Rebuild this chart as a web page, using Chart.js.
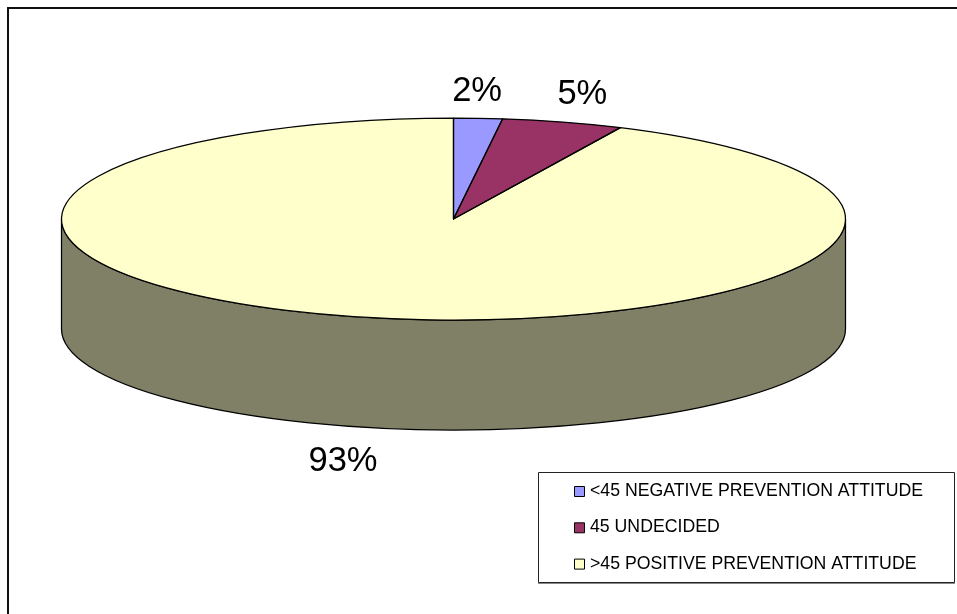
<!DOCTYPE html>
<html>
<head>
<meta charset="utf-8">
<title>Prevention attitude</title>
<script src="https://cdn.jsdelivr.net/npm/chart.js@4/dist/chart.umd.min.js"></script>
<style>
    html, body { margin: 0; padding: 0; background: #fff; }
    canvas { display: block; }
</style>
</head>
<body>
<canvas id="pieChart" width="957" height="614"></canvas>
<script>
// Datos del gráfico
const categories = ['<45 NEGATIVE PREVENTION ATTITUDE', '45 UNDECIDED', '>45 POSITIVE PREVENTION ATTITUDE'];
const values = [2, 5, 93];

// Colores de cara superior y pared lateral
const topColors = ['#9999ff', '#993366', '#ffffcc'];
const wallColors = ['#4d4d80', '#4d1933', '#808066'];

// Geometría de la elipse
const pie = { cx: 453.5, cy: 219, rx: 392, ry: 101, depth: 110 };

// Desplazamiento de cada etiqueta respecto al borde de su porción
const labelOffsets = [[-1, -27], [19.5, -28], [-25, 144]];

const fontName = '"Liberation Sans", Arial, sans-serif';

function drawFrame(ctx) {
    ctx.fillStyle = '#111';
    ctx.fillRect(7, 7, 950, 2);
    ctx.fillRect(7, 7, 2, 607);
}

// Pared lateral: solo la mitad frontal de cada porción es visible
function drawWall(ctx, arcs) {
    arcs.forEach((arc, i) => {
        const a0 = Math.max(arc.startAngle, 0);
        const a1 = Math.min(arc.endAngle, Math.PI);
        if (a1 <= a0) return;
        ctx.beginPath();
        ctx.ellipse(pie.cx, pie.cy, pie.rx, pie.ry, 0, a0, a1);
        ctx.ellipse(pie.cx, pie.cy + pie.depth, pie.rx, pie.ry, 0, a1, a0, true);
        ctx.closePath();
        ctx.fillStyle = wallColors[i];
        ctx.fill();
        ctx.strokeStyle = '#000';
        ctx.lineWidth = 1.25;
        ctx.stroke();
    });
}

function drawOutlines(ctx, arcs) {
    ctx.strokeStyle = '#000';
    ctx.lineWidth = 1.25;
    ctx.lineJoin = 'round';
    arcs.forEach(arc => {
        ctx.beginPath();
        ctx.moveTo(pie.cx, pie.cy);
        ctx.ellipse(pie.cx, pie.cy, pie.rx, pie.ry, 0, arc.startAngle, arc.endAngle);
        ctx.closePath();
        ctx.stroke();
    });
}

function drawLabels(ctx, arcs) {
    ctx.fillStyle = '#000';
    ctx.font = '34.5px ' + fontName;
    ctx.textAlign = 'center';
    ctx.textBaseline = 'middle';
    arcs.forEach((arc, i) => {
        const mid = (arc.startAngle + arc.endAngle) / 2;
        const x = pie.cx + pie.rx * Math.cos(mid) + labelOffsets[i][0];
        const y = pie.cy + pie.ry * Math.sin(mid) + labelOffsets[i][1];
        ctx.fillText(values[i] + '%', x, y);
    });
}

function drawLegend(ctx) {
    ctx.fillStyle = '#fff';
    ctx.fillRect(538, 472, 416, 110);
    ctx.strokeStyle = '#222';
    ctx.lineWidth = 1;
    ctx.strokeRect(538.5, 472.5, 416, 110);
    ctx.fillStyle = '#888';
    ctx.fillRect(538, 583, 417, 1);

    ctx.font = '17.7px ' + fontName;
    ctx.textAlign = 'left';
    ctx.textBaseline = 'alphabetic';
    categories.forEach((name, i) => {
        const y = 486 + i * 36.3;
        ctx.fillStyle = topColors[i];
        ctx.fillRect(574.5, y + 0.5, 10, 10);
        ctx.strokeStyle = '#000';
        ctx.strokeRect(574.5, y + 0.5, 10, 10);
        ctx.fillStyle = '#000';
        ctx.fillText(name, 590, y + 10);
    });
}

// Aplana las porciones circulares de Chart.js para que formen la elipse superior
const pie3d = {
    id: 'pie3d',
    beforeDraw(chart) {
        drawFrame(chart.ctx);
    },
    beforeDatasetsDraw(chart) {
        const ctx = chart.ctx;
        const arcs = chart.getDatasetMeta(0).data;
        drawWall(ctx, arcs);
        const r = arcs[0].outerRadius;
        ctx.save();
        ctx.translate(pie.cx, pie.cy);
        ctx.scale(pie.rx / r, pie.ry / r);
        ctx.translate(-arcs[0].x, -arcs[0].y);
    },
    afterDatasetsDraw(chart) {
        const ctx = chart.ctx;
        const arcs = chart.getDatasetMeta(0).data;
        ctx.restore();
        drawOutlines(ctx, arcs);
        drawLabels(ctx, arcs);
        drawLegend(ctx);
    }
};

new Chart(document.getElementById('pieChart'), {
    type: 'pie',
    data: {
        labels: categories,
        datasets: [{
            data: values,
            backgroundColor: topColors,
            borderWidth: 0
        }]
    },
    options: {
        responsive: false,
        animation: false,
        layout: { padding: 0 },
        plugins: {
            legend: { display: false },
            tooltip: { enabled: false }
        }
    },
    plugins: [pie3d]
});
</script>
</body>
</html>
